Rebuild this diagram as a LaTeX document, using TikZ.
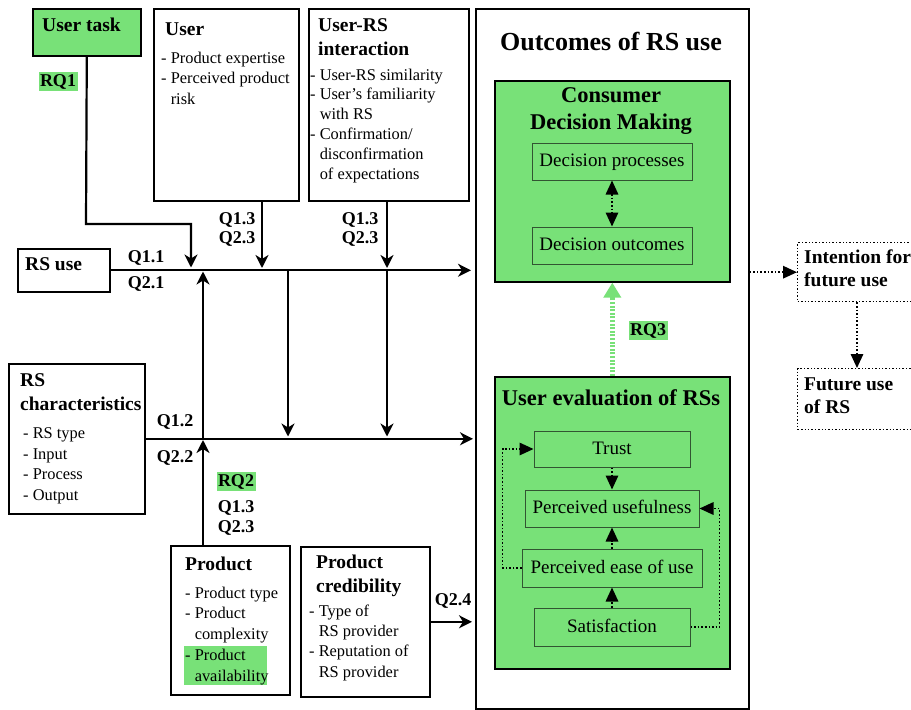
\documentclass[tikz,border=0pt]{standalone}
\usepackage{fontspec}
\setmainfont{Liberation Serif}
\usetikzlibrary{arrows.meta}
\definecolor{boxgreen}{RGB}{120,225,120}
\definecolor{innerline}{RGB}{50,85,50}

% one text line per node, stacked from a first baseline
\newcommand\textlines[5]{% name, x, first baseline, step, lines
  \foreach \t [count=\i from 0] in {#5}
    \node[item] (#1-\i) at (#2, {#3+\i*#4}) {\t};}

\begin{document}
\begin{tikzpicture}[x=1pt,y=-1pt,
  frame/.style={draw=black, line width=1.6pt, inner sep=0pt, anchor=north west},
  greenframe/.style={frame, fill=boxgreen},
  dotframe/.style={draw=black, line width=1.4pt, dotted, inner sep=0pt, anchor=north west},
  inbox/.style={draw=innerline, line width=1pt, fill=boxgreen, inner sep=0pt,
    font=\fontsize{19}{22}\selectfont, text height=13.5pt, text depth=3.5pt},
  head/.style={font=\bfseries\fontsize{19.5}{22}\selectfont, anchor=base west, inner sep=0pt},
  bighead/.style={font=\bfseries\fontsize{22.5}{26}\selectfont, anchor=base, inner sep=0pt},
  item/.style={font=\fontsize{16.4}{20}\selectfont, anchor=base west, inner sep=0pt},
  qlab/.style={font=\bfseries\fontsize{18}{20}\selectfont, inner sep=0pt, anchor=base},
  rqlab/.style={qlab, fill=boxgreen, inner xsep=1.5pt, inner ysep=2.5pt},
  flow/.style={line width=2.2pt, -{Stealth[length=13pt,width=13pt,inset=4pt]}},
  dottip/.tip={Triangle[length=14pt,width=12.5pt]},
  dotflow/.style={line width=1.6pt, dotted, -dottip},
  dotboth/.style={line width=1.6pt, dotted, dottip-dottip},
  rqflow/.style={draw=boxgreen, line width=4.5pt, dash pattern=on 2pt off 1.6pt,
    -{Triangle[length=15pt,width=17pt,fill=boxgreen]}},
]
\useasboundingbox (0,0) rectangle (911,710);
\clip (0,0) rectangle (911,710);
\fill[white] (0,0) rectangle (911,710);

% ---------- boxes ----------
\node[greenframe, minimum width=108pt, minimum height=47pt] (task) at (32,8) {};
\node[frame, minimum width=145pt, minimum height=192pt] (user) at (153,8) {};
\node[frame, minimum width=160pt, minimum height=192pt] (inter) at (308,8) {};
\node[frame, minimum width=273pt, minimum height=700pt] (outc) at (475,8) {};
\node[frame, minimum width=92pt, minimum height=43pt] (rsuse) at (17,248) {};
\node[frame, minimum width=136pt, minimum height=150pt] (rschar) at (8,363) {};
\node[frame, minimum width=119pt, minimum height=149pt] (prod) at (170,545) {};
\node[frame, minimum width=129pt, minimum height=150pt] (cred) at (300,546) {};
% these two run on past the right edge
\node[dotframe, minimum width=150pt, minimum height=59pt] (intent) at (797,242) {};
\node[dotframe, minimum width=150pt, minimum height=61pt] (future) at (797,368) {};

% consumer decision making
\node[greenframe, minimum width=235pt, minimum height=201pt] (cdm) at (494,80) {};
\node[inbox, minimum width=160pt, minimum height=37pt] (dproc) at (612,161.5) {Decision processes};
\node[inbox, minimum width=160pt, minimum height=37pt] (dout) at (612,245.5) {Decision outcomes};

% user evaluation
\node[greenframe, minimum width=235pt, minimum height=292pt] (ueval) at (494,376) {};
\node[inbox, minimum width=156pt, minimum height=36pt] (trust) at (612,449) {Trust};
\node[inbox, minimum width=174pt, minimum height=37pt] (pu) at (612,508.5) {Perceived usefulness};
\node[inbox, minimum width=180pt, minimum height=38pt] (peou) at (612,568) {Perceived ease of use};
\node[inbox, minimum width=156pt, minimum height=38pt] (sat) at (612,627) {Satisfaction};

% ---------- texts ----------
\node[head] (task-t) at (42,31) {User task};
\node[rqlab] (rq1) at (58,86) {RQ1};

\node[head] (user-t) at (165,35) {User};
\textlines{user}{161}{63}{20.5}{- Product expertise, - Perceived product, \phantom{- }risk}

\node[head] (inter-t1) at (318,31) {User-RS};
\node[head] (inter-t2) at (318,55) {interaction};
\textlines{inter}{310}{80}{19.8}{- User-RS similarity, - User's familiarity, \phantom{- }with RS,
  - Confirmation/, \phantom{- }disconfirmation, \phantom{- }of expectations}

\node[bighead, font=\bfseries\fontsize{26}{30}\selectfont] (outc-t) at (611,50) {Outcomes of RS use};
\node[bighead] (cdm-t1) at (611,102) {Consumer};
\node[bighead] (cdm-t2) at (611,129) {Decision Making};
\node[bighead] (ueval-t) at (611,405) {User evaluation of RSs};

\node[head] (rsuse-t) at (25,270) {RS use};

\node[head] (rschar-t1) at (20,386) {RS};
\node[head] (rschar-t2) at (20,410) {characteristics};
\textlines{rschar}{23}{438.5}{20.5}{- RS type, - Input, - Process, - Output}

\node[fill=boxgreen, inner sep=0pt, anchor=north west, minimum width=83pt, minimum height=39pt] (avail) at (184,646) {};
\node[head] (prod-t) at (185,570) {Product};
\textlines{prod}{185}{598}{20.9}{- Product type, - Product, \phantom{- }complexity, - Product, \phantom{- }availability}

\node[head] (cred-t1) at (316,568) {Product};
\node[head] (cred-t2) at (316,592) {credibility};
\textlines{cred}{309}{616}{20.4}{- Type of, \phantom{- }RS provider, - Reputation of, \phantom{- }RS provider}

\node[head] (intent-t1) at (804,263) {Intention for};
\node[head] (intent-t2) at (804,286) {future use};
\node[head] (future-t1) at (804,390) {Future use};
\node[head] (future-t2) at (804,413) {of RS};

% question labels
\node[qlab] (q11) at (146,262) {Q1.1};
\node[qlab] (q21) at (146,288) {Q2.1};
\node[qlab] (qu13) at (237,224) {Q1.3};
\node[qlab] (qu23) at (237,243) {Q2.3};
\node[qlab] (qi13) at (360,224) {Q1.3};
\node[qlab] (qi23) at (360,243) {Q2.3};
\node[qlab] (q12) at (175,426) {Q1.2};
\node[qlab] (q22) at (175,462) {Q2.2};
\node[rqlab] (rq2) at (236,486) {RQ2};
\node[qlab] (qp13) at (236,512) {Q1.3};
\node[qlab] (qp23) at (236,532) {Q2.3};
\node[qlab] (q24) at (453,605) {Q2.4};
\node[rqlab] (rq3) at (648,335) {RQ3};

% ---------- connectors ----------
\coordinate (bend) at (86,224);
\coordinate (j-task) at (191,269.5);
\coordinate (j-user) at (262,269.5);
\coordinate (j-mid) at (288,269.5);
\coordinate (j-inter) at (387,269.5);
\coordinate (j2-up) at (203,438);
\coordinate (j2-mid) at (288,438);
\coordinate (j2-inter) at (387,438);
\coordinate (fcol) at (857,300);

\draw[flow, shorten >=4pt] (rsuse.east) -- (outc.west |- rsuse.east);
\draw[flow, shorten >=2pt] (rschar.east) -- (outc.west |- rschar.east);
\draw[flow, shorten >=2pt] (task.south) -- (bend) -| (j-task);
\draw[flow, shorten >=1.5pt] (user.south -| j-user) -- (j-user);
\draw[flow, shorten >=1.5pt] (inter.south -| j-inter) -- (j-inter);
\draw[flow, shorten >=1.5pt] (j-mid) -- (j2-mid);
\draw[flow, shorten >=1.5pt] (j-inter) -- (j2-inter);
\draw[flow, shorten >=2pt] (j2-up) -- (j2-up |- j-task);
\draw[flow, shorten >=2pt] (prod.north -| j2-up) -- (j2-up);
\draw[flow, shorten >=3pt] (cred.east) -- (outc.west |- cred.east);

\draw[dotboth] (dproc) -- (dout);
\draw[rqflow] (ueval.north) -- (cdm.south);
\draw[dotflow] (trust) -- (pu);
\draw[dotflow] (peou) -- (pu);
\draw[dotflow] (sat) -- (peou);
\draw[dotflow] (peou.west) -- ++(-19,0) |- (trust.west);
\draw[dotflow] (sat.east) -- ++(29,0) |- (pu.east);
\draw[dotflow] (outc.east |- intent.west) -- (intent.west);
\draw[dotflow] (intent.south -| fcol) -- (future.north -| fcol);
\end{tikzpicture}
\end{document}
